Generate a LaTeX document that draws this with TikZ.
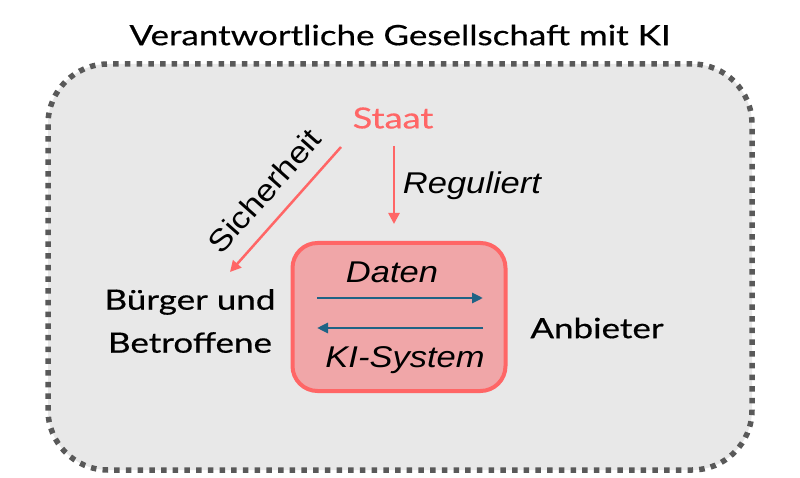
\documentclass[tikz,border=0pt]{standalone}
\usepackage{fontspec}
\setmainfont{Lato}[FakeStretch=1.25, FakeBold=0.5]
\newfontfamily\arialfam{Liberation Sans}[FakeStretch=1.15]
\usetikzlibrary{arrows.meta}
\definecolor{bgfill}{HTML}{E8E8E8}
\definecolor{bordergray}{HTML}{595959}
\definecolor{redc}{HTML}{FF6666}
\definecolor{pinkfill}{HTML}{F0A6A8}
\definecolor{bluec}{HTML}{1F6385}
\tikzset{
  plain/.style={font=\fontsize{28}{43}\selectfont, text=black, inner sep=0pt},
  itlabel/.style={font=\arialfam\itshape\fontsize{30}{36}\selectfont, text=black, inner sep=0pt},
  redarrow/.style={draw=redc, line width=2.5pt, -{Triangle[length=11pt,width=11pt]}},
  bluearrow/.style={draw=bluec, line width=2.8pt, -{Triangle[length=11pt,width=10pt]}},
}
\begin{document}
\begin{tikzpicture}[x=1pt,y=-1pt]
\useasboundingbox (0,0) rectangle (800,478);
% outer region
\node[draw=bordergray, fill=bgfill, line width=5.5pt, dash pattern=on 5.5pt off 6.2pt,
      rounded corners=60pt, minimum width=704pt, minimum height=406pt, inner sep=0pt]
      (society) at (400,267) {};
\node[plain] (title) at (400,35) {Verantwortliche Gesellschaft mit KI};
% KI box
\node[draw=redc, fill=pinkfill, line width=4pt, rounded corners=25pt,
      minimum width=213pt, minimum height=148pt, inner sep=0pt] (kibox) at (399,317) {};
% texts
\node[plain, text=redc, font=\fontsize{29}{36}\selectfont] (staat) at (393,118) {Staat};
\node[itlabel] (reg) at (472,186) {Reguliert};
\node[plain, align=center] (buerger) at (190,321) {Bürger und\\Betroffene};
\node[plain] (anbieter) at (597,328) {Anbieter};
\node[itlabel] (daten) at (392,272) {Daten};
\node[itlabel] (kisys) at (405,360) {KI-System};
% connectors
\coordinate (sicStart) at (341,147);
\coordinate (sicEnd) at (230,272);
\draw[redarrow] (sicStart) -- (sicEnd)
  node[pos=0.5, sloped, above=16pt, inner sep=0pt, font=\arialfam\fontsize{30}{36}\selectfont, text=black] (sic) {Sicherheit};
\coordinate (regStart) at (394,146);
\coordinate (regEnd) at (394,224);
\draw[redarrow] (regStart) -- (regEnd);
\coordinate (dL) at (317,298);
\coordinate (dR) at (483,298);
\coordinate (kL) at (317,328);
\coordinate (kR) at (483,328);
\draw[bluearrow] (dL) -- (dR);
\draw[bluearrow] (kR) -- (kL);
\end{tikzpicture}
\end{document}
